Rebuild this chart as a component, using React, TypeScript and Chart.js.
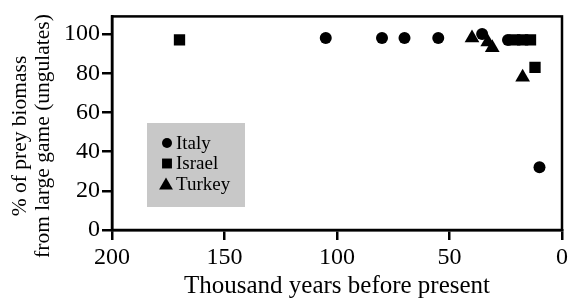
import React, { useEffect, useRef } from 'react';
import { Chart, registerables } from 'chart.js';

Chart.register(...registerables);

const SERIES = ['Italy', 'Israel', 'Turkey'];
const ITALY_X = [105, 80, 70, 55, 35.5, 24, 10];
const ITALY_Y = [98, 98, 98, 98, 100, 97, 32];
const ISRAEL_X = [170, 21, 17.5, 14, 12];
const ISRAEL_Y = [97, 97, 97, 97, 83];
const TURKEY_X = [40, 33, 31, 17.5];
const TURKEY_Y = [98, 96, 93, 78];
const X_TICKS = [200, 150, 100, 50, 0];
const Y_TICKS = [0, 20, 40, 60, 80, 100];
const X_TITLE = 'Thousand years before present';
const Y_TITLE = ['% of prey biomass', 'from large game (ungulates)'];

const FAMILY = '"Liberation Serif", "DejaVu Serif", "Times New Roman", serif';

const toPoints = (xs: number[], ys: number[]) => xs.map((x, i) => ({ x, y: ys[i] }));

function drawMarker(ctx: CanvasRenderingContext2D, style: string, x: number, y: number, r: number) {
  ctx.beginPath();
  if (style === 'circle') {
    ctx.arc(x, y, r, 0, Math.PI * 2);
  } else if (style === 'rect') {
    const s = r * Math.SQRT1_2;
    ctx.rect(x - s, y - s, 2 * s, 2 * s);
  } else {
    ctx.moveTo(x, y - r);
    ctx.lineTo(x + r * Math.sin((2 * Math.PI) / 3), y - r * Math.cos((2 * Math.PI) / 3));
    ctx.lineTo(x + r * Math.sin((4 * Math.PI) / 3), y - r * Math.cos((4 * Math.PI) / 3));
    ctx.closePath();
  }
  ctx.fill();
}

const framePlugin = {
  id: 'frame',
  afterDraw(chart: any) {
    const { ctx, chartArea } = chart;
    ctx.save();
    ctx.strokeStyle = '#000';
    ctx.lineWidth = 2.5;
    ctx.strokeRect(chartArea.left, chartArea.top, chartArea.right - chartArea.left, chartArea.bottom - chartArea.top);
    ctx.restore();
  },
};

const legendPlugin = {
  id: 'boxLegend',
  afterDatasetsDraw(chart: any) {
    const { ctx } = chart;
    ctx.save();
    ctx.fillStyle = '#c8c8c8';
    ctx.fillRect(147, 123, 98, 84);
    const rows = [143, 163.5, 184];
    ctx.font = `19px ${FAMILY}`;
    ctx.textBaseline = 'middle';
    ctx.textAlign = 'left';
    chart.data.datasets.forEach((ds: any, i: number) => {
      ctx.fillStyle = '#000';
      const st = ds.pointStyle;
      const r = st === 'circle' ? 5 : st === 'rect' ? 7 : 8;
      drawMarker(ctx, st, st === 'triangle' ? 166 : 167, rows[i] + (st === 'triangle' ? 1.5 : 0), r);
      ctx.fillText(ds.label, 176, rows[i] + 1);
    });
    ctx.restore();
  },
};

const yTitlePlugin = {
  id: 'yTitle',
  afterDraw(chart: any) {
    const { ctx } = chart;
    ctx.save();
    ctx.fillStyle = '#000';
    ctx.font = `21.5px ${FAMILY}`;
    ctx.textAlign = 'center';
    ctx.textBaseline = 'middle';
    const xs = [20, 43];
    Y_TITLE.forEach((line, i) => {
      ctx.save();
      ctx.translate(xs[i], 136);
      ctx.rotate(-Math.PI / 2);
      ctx.fillText(line, 0, 0);
      ctx.restore();
    });
    ctx.restore();
  },
};

export default function App() {
  const ref = useRef<HTMLCanvasElement | null>(null);

  useEffect(() => {
    if (!ref.current) return;
    const axisCommon = {
      grid: {
        display: true,
        drawOnChartArea: false,
        drawTicks: true,
        tickLength: 10,
        color: '#000',
        lineWidth: 2.5,
      },
      border: { display: true, color: '#000', width: 2.5 },
    };
    const chart = new Chart(ref.current, {
      type: 'scatter',
      data: {
        datasets: [
          {
            label: SERIES[0],
            data: toPoints(ITALY_X, ITALY_Y),
            pointStyle: 'circle',
            pointRadius: 6,
            backgroundColor: '#000',
            borderWidth: 0,
          },
          {
            label: SERIES[1],
            data: toPoints(ISRAEL_X, ISRAEL_Y),
            pointStyle: 'rect',
            pointRadius: 8,
            backgroundColor: '#000',
            borderWidth: 0,
          },
          {
            label: SERIES[2],
            data: toPoints(TURKEY_X, TURKEY_Y),
            pointStyle: 'triangle',
            pointRadius: 8.5,
            backgroundColor: '#000',
            borderWidth: 0,
          },
        ],
      },
      options: {
        animation: false,
        responsive: false,
        devicePixelRatio: 1,
        layout: { padding: { top: 7, right: 10, left: 0, bottom: 0 } },
        plugins: { legend: { display: false }, tooltip: { enabled: false } },
        scales: {
          x: {
            type: 'linear',
            min: 0,
            max: 200,
            reverse: true,
            afterBuildTicks: (s: any) => {
              s.ticks = X_TICKS.map((v) => ({ value: v }));
            },
            afterFit: (s: any) => {
              s.height = 72;
            },
            ...axisCommon,
            ticks: {
              color: '#000',
              font: { size: 24, family: FAMILY },
              padding: 3,
              maxRotation: 0,
              autoSkip: false,
            },
            title: {
              display: true,
              text: X_TITLE,
              color: '#000',
              font: { size: 25, family: FAMILY },
              padding: { top: 0, bottom: 1 },
            },
          },
          y: {
            type: 'linear',
            min: 0,
            max: 109,
            afterBuildTicks: (s: any) => {
              s.ticks = Y_TICKS.map((v) => ({ value: v }));
            },
            afterFit: (s: any) => {
              s.width = 112;
            },
            ...axisCommon,
            ticks: {
              color: '#000',
              font: { size: 24, family: FAMILY },
              padding: 2,
              autoSkip: false,
            },
          },
        },
      },
      plugins: [framePlugin, legendPlugin, yTitlePlugin],
    } as any);
    return () => chart.destroy();
  }, []);

  return (
    <div style={{ position: 'fixed', left: 0, top: 0, width: 572, height: 302, background: '#fff' }}>
      <canvas ref={ref} width={572} height={302} style={{ width: 572, height: 302, display: 'block' }} />
    </div>
  );
}
